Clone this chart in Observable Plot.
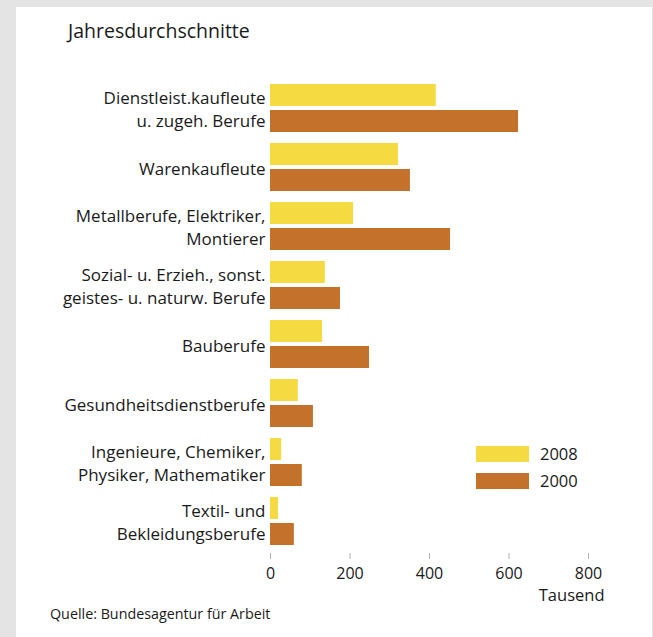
<!DOCTYPE html>
<html>
<head>
<meta charset="utf-8">
<script src="https://cdn.jsdelivr.net/npm/d3@7"></script>
<script src="https://cdn.jsdelivr.net/npm/@observablehq/plot@0.6"></script>
<style>
  html, body { margin: 0; padding: 0; background: #e4e4e4; }
  body { width: 653px; height: 637px; position: relative; overflow: hidden; font-family: "Open Sans", sans-serif; color: #1a1a1a; }
  #panel { position: absolute; left: 16px; top: 7px; width: 636px; height: 630px; background: #fff; }
  #title { position: absolute; left: 52px; top: 11px; font-size: 19.5px; line-height: 26px; white-space: nowrap; }
  #chart { position: absolute; left: 0; top: 53px; }
  #caption { position: absolute; left: 34px; top: 598px; font-size: 14.3px; line-height: 18px; white-space: nowrap; }
  .legend { position: absolute; left: 460px; font-size: 16.5px; line-height: 16px; white-space: nowrap; }
  .legend .sw { position: absolute; left: 0; top: 0; width: 53px; height: 16px; }
  .legend .lb { position: absolute; left: 64px; top: 0; }
</style>
</head>
<body>
<div id="panel">
  <div id="title">Jahresdurchschnitte</div>
  <div id="chart"></div>
  <div id="caption">Quelle: Bundesagentur für Arbeit</div>
</div>
<script>
const categories = [
  "Dienstleist.kaufleute\nu. zugeh. Berufe",
  "Warenkaufleute",
  "Metallberufe, Elektriker,\nMontierer",
  "Sozial- u. Erzieh., sonst.\ngeistes- u. naturw. Berufe",
  "Bauberufe",
  "Gesundheitsdienstberufe",
  "Ingenieure, Chemiker,\nPhysiker, Mathematiker",
  "Textil- und\nBekleidungsberufe"
];
const values2008 = [417, 322, 209, 138, 131, 70, 28, 20];
const values2000 = [624, 352, 453, 176, 249, 108, 80, 60];
const years = ["2008", "2000"];
const colors = ["#f5da42", "#c4722b"];
const xTicks = [0, 200, 400, 600, 800];
const axisUnit = "Tausend";

const rows2008 = categories.map((c, i) => ({category: c, value: values2008[i]}));
const rows2000 = categories.map((c, i) => ({category: c, value: values2000[i]}));

const chart = Plot.plot({
  width: 636,
  height: 563,
  marginLeft: 254,
  marginRight: 64,
  marginTop: 17,
  marginBottom: 70,
  style: {fontFamily: "'Open Sans', sans-serif", fontSize: "16px", color: "#1a1a1a", background: "transparent"},
  x: {domain: [0, 800]},
  y: {domain: categories, paddingInner: 0.178, paddingOuter: 0.084, axis: null},
  marks: [
    Plot.barX(rows2008, {x: "value", y: "category", fill: colors[0], insetBottom: 26}),
    Plot.barX(rows2000, {x: "value", y: "category", fill: colors[1], insetTop: 26}),
    Plot.text(categories, {y: d => d, text: d => d, frameAnchor: "left", textAnchor: "end", dx: -5, lineHeight: 1.32, fontSize: 17, fill: "#1a1a1a"}),
    Plot.axisX({ticks: xTicks, tickSize: 6, tickPadding: 8, stroke: "#b0b0b0", fill: "#1a1a1a", fontSize: 16, label: null, line: true, tickFormat: d => String(d)}),
    Plot.text([axisUnit], {frameAnchor: "bottom-right", text: d => d, textAnchor: "end", dx: 16, dy: 47, fontSize: 16.5, fill: "#1a1a1a"})
  ]
});
document.getElementById("chart").appendChild(chart);

const panel = document.getElementById("panel");
years.forEach((y, i) => {
  const el = document.createElement("div");
  el.className = "legend";
  el.style.top = (439 + i * 27) + "px";
  el.innerHTML = `<div class="sw" style="background:${colors[i]}"></div><div class="lb">${y}</div>`;
  panel.appendChild(el);
});
</script>
</body>
</html>
